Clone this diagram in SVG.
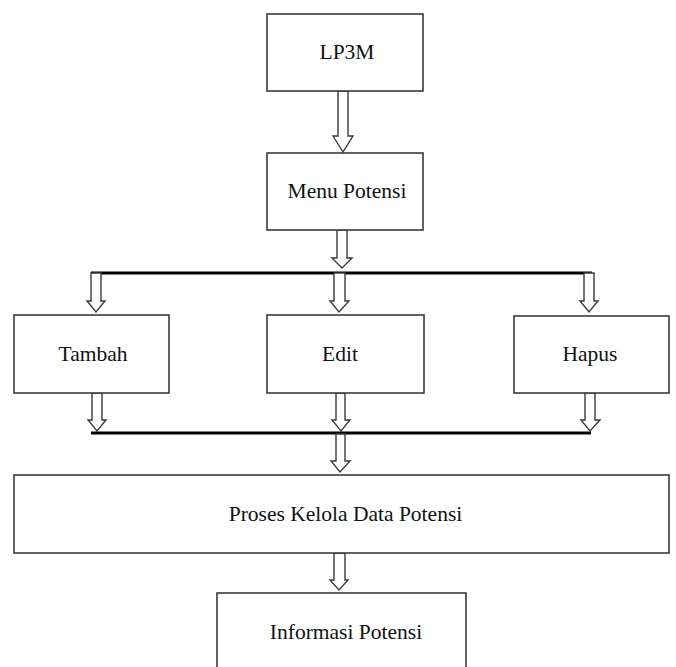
<svg xmlns="http://www.w3.org/2000/svg" width="676" height="667" viewBox="0 0 676 667">
<style>
.box{fill:#fff;stroke:#3a3a3a;stroke-width:1.6}
.lbl{font-family:"Liberation Serif","Times New Roman",serif;font-size:21.5px;fill:#111;text-anchor:middle}
.arr{fill:#fff;stroke:#3a3a3a;stroke-width:1.4;stroke-linejoin:miter}
.bar{stroke:#000;stroke-width:3;fill:none}
</style>
<rect width="676" height="667" fill="#fff"/>
<g id="connectors">
<path class="arr" d="M338,91 L348,91 L348,136 L353,136 L343,152 L333,136 L338,136 Z"/>
<path class="arr" d="M337,230 L347,230 L347,258 L352,258 L342,268 L332,258 L337,258 Z"/>
<line class="bar" x1="91" y1="273" x2="592" y2="273"/>
<path class="arr" d="M91,273 L101,273 L101,301 L105,301 L96,312 L87,301 L91,301 Z"/>
<path class="arr" d="M334,273 L345,273 L345,301 L349,301 L339,312 L330,301 L334,301 Z"/>
<path class="arr" d="M584,273 L594,273 L594,301 L598,301 L589,312 L580,301 L584,301 Z"/>
<path class="arr" d="M92,393 L102,393 L102,420 L106,420 L97,431 L88,420 L92,420 Z"/>
<path class="arr" d="M336,393 L345,393 L345,420 L350,420 L341,431 L332,420 L336,420 Z"/>
<path class="arr" d="M585,393 L595,393 L595,420 L600,420 L590,431 L581,420 L585,420 Z"/>
<line class="bar" x1="91" y1="433" x2="591" y2="433"/>
<path class="arr" d="M336,434 L345,434 L345,461 L350,461 L340,472 L331,461 L336,461 Z"/>
<path class="arr" d="M334,553 L345,553 L345,580 L348,580 L339,590 L330,580 L334,580 Z"/>
</g>
<g id="lp3m"><rect class="box" x="267" y="14" width="156" height="77"/><text class="lbl" x="347" y="59">LP3M</text></g>
<g id="menu-potensi"><rect class="box" x="267" y="153" width="156" height="77"/><text class="lbl" x="347" y="198">Menu Potensi</text></g>
<g id="tambah"><rect class="box" x="14" y="315" width="155" height="78"/><text class="lbl" x="93" y="361">Tambah</text></g>
<g id="edit"><rect class="box" x="267" y="315" width="157" height="78"/><text class="lbl" x="340" y="361">Edit</text></g>
<g id="hapus"><rect class="box" x="514" y="316" width="155" height="77"/><text class="lbl" x="590" y="361">Hapus</text></g>
<g id="proses"><rect class="box" x="14" y="475" width="655" height="78"/><text class="lbl" x="345.5" y="521">Proses Kelola Data Potensi</text></g>
<g id="informasi"><rect class="box" x="217" y="593" width="249" height="90"/><text class="lbl" x="346" y="639">Informasi Potensi</text></g>
</svg>
